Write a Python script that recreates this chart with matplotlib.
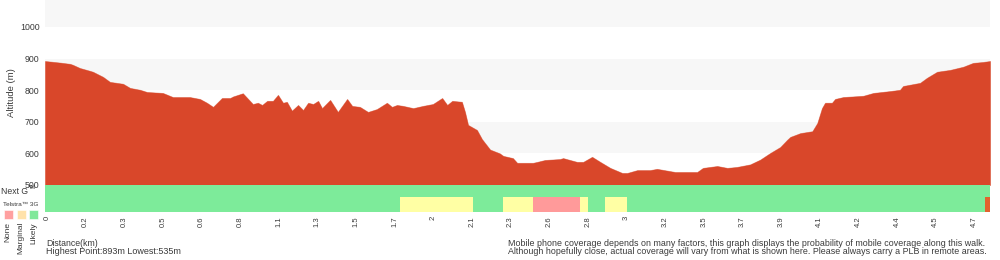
import matplotlib
matplotlib.use("Agg")
import matplotlib.pyplot as plt
import numpy as np

plt.rcParams['font.family'] = ['Liberation Sans', 'DejaVu Sans']

# ---- data -------------------------------------------------------------
dist_labels = ["0", "0.2", "0.3", "0.5", "0.6", "0.8", "1.1", "1.3", "1.5", "1.7",
               "2", "2.1", "2.3", "2.6", "2.8", "3", "3.2", "3.5", "3.7", "3.9",
               "4.1", "4.2", "4.4", "4.5", "4.7"]

# position along the track (in label-step units) and altitude (m)
track_pos = [-0.05, 0.34, 0.60, 0.67, 0.85, 1.11, 1.19, 1.45, 1.63, 1.97, 2.15, 2.41,
             2.59, 3.00, 3.26, 3.70, 3.96, 4.14, 4.30, 4.53, 4.74, 4.82, 5.07, 5.33,
             5.46, 5.57, 5.70, 5.85, 5.98, 6.11, 6.21, 6.34, 6.50, 6.63, 6.76, 6.89,
             7.02, 7.12, 7.33, 7.53, 7.77, 7.90, 8.10, 8.31, 8.54, 8.80, 8.93, 9.06,
             9.22, 9.48, 9.73, 9.99, 10.23, 10.36, 10.49, 10.74, 10.82, 10.90, 11.13,
             11.26, 11.47, 11.72, 11.81, 12.06, 12.17, 12.58, 12.69, 12.89, 13.28,
             13.36, 13.72, 13.88, 14.11, 14.32, 14.58, 14.89, 15.02, 15.28, 15.61,
             15.79, 16.26, 16.83, 16.98, 17.35, 17.61, 17.86, 18.20, 18.46, 18.72,
             18.98, 19.16, 19.24, 19.50, 19.81, 19.94, 20.06, 20.14, 20.32, 20.40,
             20.61, 21.13, 21.39, 21.83, 22.08, 22.16, 22.60, 22.78, 23.04, 23.38,
             23.72, 23.97, 24.23, 24.41]
altitude = [892, 887, 883, 880, 870, 861, 858, 842, 826, 820, 807, 801,
            794, 791, 778, 778, 772, 760, 747, 775, 775, 780, 790, 756,
            760, 753, 766, 766, 785, 760, 763, 735, 753, 737, 760, 756,
            766, 743, 769, 731, 772, 750, 747, 731, 740, 760, 747, 753,
            750, 743, 750, 756, 775, 753, 766, 763, 731, 690, 674,
            645, 612, 600, 592, 585, 570, 570, 573, 579, 582,
            585, 573, 573, 589, 573, 554, 538, 538, 547, 547,
            551, 541, 541, 554, 560, 554, 557, 565, 580, 601,
            620, 643, 652, 664, 670, 696, 743, 760, 760, 772,
            778, 782, 791, 797, 801, 813, 823, 839, 858, 864,
            874, 886, 889, 892]

# Telstra 3G coverage segments: (start, end, level); rest is "Likely"
cov_start = [9.14, 11.81, 12.58, 13.80, 14.45, 24.28]
cov_end = [11.03, 12.58, 13.80, 14.01, 15.02, 24.41]
cov_level = ["Marginal", "Marginal", "None", "Marginal", "Marginal", "Edge"]

y_ticks = [500, 600, 700, 800, 900, 1000]

# ---- style ------------------------------------------------------------
RED = "#d9472a"
GREEN = "#7deb9a"
YELLOW = "#ffffa4"
PINK = "#ff9a9a"
EDGE = "#e2622e"
BAND = "#f7f7f7"
TXT = "#3a3a3a"
level_color = {"Likely": GREEN, "Marginal": YELLOW, "None": PINK, "Edge": EDGE}

W, H = 1000, 260
fig = plt.figure(figsize=(W / 100, H / 100), dpi=100)

xmin, xmax = -0.05, 24.41

# main elevation axes
ax = fig.add_axes([45 / W, (H - 185) / H, 945 / W, 185 / H])
ax.set_xlim(xmin, xmax)
ax.set_ylim(500, 1085)
for lo in [600, 800, 1000]:
    ax.axhspan(lo, lo + 100, color=BAND, lw=0, zorder=0)
ax.fill_between(track_pos, altitude, 500, color=RED, lw=0.6, edgecolor="#e8a090", zorder=2)
ax.fill_between(track_pos, altitude, 500, color=RED, lw=0, zorder=3)
ax.set_yticks(y_ticks)
ax.set_yticklabels([str(v) for v in y_ticks], fontsize=6.3, color=TXT)
ax.tick_params(axis='y', length=0, pad=4)
ax.set_xticks([])
for s in ax.spines.values():
    s.set_visible(False)
ax.set_ylabel("Altitude (m)", fontsize=6.8, color=TXT, labelpad=3)

# coverage axes
cax = fig.add_axes([45 / W, (H - 212) / H, 945 / W, 27 / H])
cax.set_xlim(xmin, xmax)
cax.set_ylim(0, 27)
cax.broken_barh([(xmin, 24.41 - xmin)], (15, 12), color=GREEN, lw=0)
cax.broken_barh([(xmin, 24.28 - xmin)], (0, 15), color=GREEN, lw=0)
for s0, s1, lv in zip(cov_start, cov_end, cov_level):
    cax.broken_barh([(s0, s1 - s0)], (0, 15), color=level_color[lv], lw=0)
for s in cax.spines.values():
    s.set_visible(False)
cax.set_yticks([])
cax.set_xticks(range(len(dist_labels)))
cax.set_xticklabels(dist_labels, rotation=90, fontsize=5.5, color=TXT)
cax.tick_params(axis='x', length=0, pad=3)

# legend / labels on the left
fig.text(1 / W, 1 - 191 / H, "Next G", fontsize=6.2, color=TXT, va="center", ha="left")
fig.text(28.5 / W, 1 - 187.5 / H, "TM", fontsize=3.5, color=TXT, va="center", ha="left")
fig.text(3 / W, 1 - 204 / H, "Telstra\u2122 3G", fontsize=4.6, color=TXT, va="center", ha="left")
sw = [("None", "#ffa0a0", 3.5), ("Marginal", "#ffe2aa", 16.5), ("Likely", "#80e89a", 29)]
for lab, col, x0 in sw:
    fig.patches.append(plt.Rectangle((x0 / W, 1 - 219 / H), 9 / W, 9 / H,
                                     transform=fig.transFigure, facecolor=col,
                                     edgecolor="white", lw=0.4))
    fig.text((x0 + 4.5) / W, 1 - 222 / H, lab, rotation=90, fontsize=6, color=TXT,
             va="top", ha="center")

fig.text(46 / W, 1 - 243 / H, "Distance(km)", fontsize=6.3, color=TXT, va="center")
fig.text(46 / W, 1 - 252 / H, "Highest Point:893m Lowest:535m", fontsize=6.45, color=TXT, va="center")
fig.text(508 / W, 1 - 243 / H,
         "Mobile phone coverage depends on many factors, this graph displays the probability of mobile coverage along this walk.",
         fontsize=6.4, color=TXT, va="center")
fig.text(508 / W, 1 - 252 / H,
         "Although hopefully close, actual coverage will vary from what is shown here. Please always carry a PLB in remote areas.",
         fontsize=6.4, color=TXT, va="center")

fig.savefig("out.png", dpi=100)
